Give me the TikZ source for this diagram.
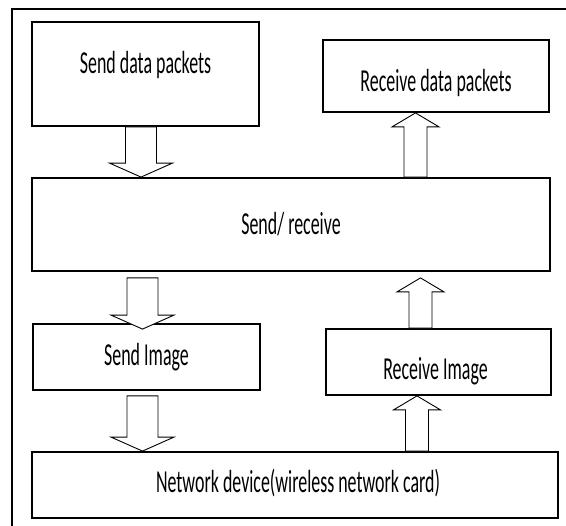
\documentclass[tikz,border=0pt]{standalone}
\usepackage{fontspec}
\setmainfont{Carlito}[FakeStretch=0.56]
\usetikzlibrary{positioning,calc}

% wide hollow arrow: tail, tip, half shaft, half head
\newcommand{\fatarrow}[4]{%
  \draw[fat] let \p1=(#1), \p2=(#2), \p3=($(#2)!14pt!(#1)$) in
    (\x1-#3,\y1) -- (\x1-#3,\y3) -- (\x1-#4,\y3) -- (\x2,\y2)
    -- (\x1+#4,\y3) -- (\x1+#3,\y3) -- (\x1+#3,\y1) -- cycle;}

\begin{document}
\begin{tikzpicture}[x=1pt,y=-1pt,
  box/.style={draw,line width=1.8pt,rectangle,inner sep=0pt},
  lbl/.style={anchor=base,inner sep=0pt,font=\fontsize{32}{36}\selectfont},
  fat/.style={draw,line width=0.9pt,fill=white,line join=miter}]
\useasboundingbox (0,0) rectangle (566,526);
\draw[line width=1.4pt] (12,526) -- (12,9) -- (566,9);

\node[box,minimum width=227pt,minimum height=104pt] (sdp) at (145.5,74) {};
\node[box,minimum width=226pt,minimum height=72pt] (rdp) at (436,76) {};
\node[box,minimum width=518pt,minimum height=93pt] (sr) at (291,224.5) {};
\node[box,minimum width=227pt,minimum height=66pt] (si) at (146.5,357) {};
\node[box,minimum width=225pt,minimum height=66pt] (ri) at (438.5,362) {};
\node[box,minimum width=526pt,minimum height=66pt] (nd) at (295,485) {};

\node[lbl] (sdp-t) at ($(sdp.center)+(0,0)$) {Send data packets};
\node[lbl] (rdp-t) at ($(rdp.center)+(0,16)$) {Receive data packets};
\node[lbl] (sr-t) at ($(sr.center)+(0,10.5)$) {Send/ receive};
\node[lbl] (si-t) at ($(si.center)+(0,9)$) {Send Image};
\node[lbl] (ri-t) at ($(ri.center)+(-3,18)$) {Receive Image};
\node[lbl] (nd-t) at ($(nd.center)+(3,8)$) {Network device(wireless network card)};

% arrow columns
\coordinate (l1) at (141,0);
\coordinate (l2) at (142.5,0);
\coordinate (r1) at (415.5,0);
\coordinate (r2) at (420.5,0);
\coordinate (r3) at (417,0);

\fatarrow{sdp.south -| l1}{sr.north -| l1}{15.5pt}{31.5pt}
\fatarrow{$(sr.south -| l2)+(0,6)$}{$(si.north -| l2)+(0,6)$}{15.5pt}{31.5pt}
\fatarrow{$(si.south -| l2)+(0,5)$}{nd.north -| l2}{15.5pt}{31.5pt}
\fatarrow{sr.north -| r1}{rdp.south -| r1}{11.5pt}{23.5pt}
\fatarrow{ri.north -| r2}{$(sr.south -| r2)+(0,6)$}{11.5pt}{23.5pt}
\fatarrow{nd.north -| r3}{ri.south -| r3}{11.5pt}{23.5pt}
\end{tikzpicture}
\end{document}
